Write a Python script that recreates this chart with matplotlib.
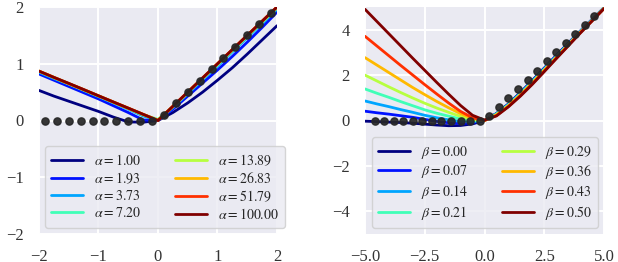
import numpy as np
import matplotlib
matplotlib.use("Agg")
import matplotlib.pyplot as plt
import seaborn as sns

# ---------------- data ----------------
alphas = [1.00, 1.93, 3.73, 7.20, 13.89, 26.83, 51.79, 100.00]
betas = [0.00, 0.07, 0.14, 0.21, 0.29, 0.36, 0.43, 0.50]

left_x = [-2, -1.75, -1.5, -1.25, -1, -0.75, -0.5, -0.25, 0,
          0.25, 0.5, 0.75, 1, 1.25, 1.5, 1.75, 2]
left_curves = [
    [0.53, 0.43, 0.34, 0.25, 0.16, 0.06, -0.025, -0.03, 0.0, 0.14, 0.31, 0.50, 0.71, 0.93, 1.17, 1.42, 1.67],
    [0.82, 0.71, 0.60, 0.49, 0.38, 0.26, 0.14, 0.01, 0.0, 0.20, 0.43, 0.66, 0.89, 1.13, 1.38, 1.64, 1.91],
    [0.85, 0.74, 0.64, 0.53, 0.42, 0.31, 0.20, 0.08, 0.0, 0.23, 0.47, 0.72, 0.96, 1.21, 1.46, 1.71, 1.96],
    [0.865, 0.755, 0.645, 0.54, 0.43, 0.32, 0.21, 0.10, 0.02, 0.24, 0.49, 0.74, 0.98, 1.23, 1.48, 1.73, 1.98],
    [0.87, 0.76, 0.65, 0.54, 0.435, 0.325, 0.215, 0.105, 0.01, 0.245, 0.495, 0.745, 0.99, 1.24, 1.49, 1.74, 1.99],
    [0.87, 0.76, 0.65, 0.545, 0.435, 0.325, 0.217, 0.108, 0.005, 0.25, 0.50, 0.75, 1.0, 1.25, 1.50, 1.75, 2.0],
    [0.87, 0.76, 0.65, 0.545, 0.435, 0.326, 0.218, 0.109, 0.0, 0.25, 0.50, 0.75, 1.0, 1.25, 1.50, 1.75, 2.0],
    [0.87, 0.76, 0.655, 0.545, 0.435, 0.326, 0.218, 0.109, 0.0, 0.25, 0.50, 0.75, 1.0, 1.25, 1.50, 1.75, 2.0],
]
left_dot_x = [-1.9, -1.7, -1.5, -1.3, -1.1, -0.9, -0.7, -0.5, -0.3, -0.1,
              0.1, 0.3, 0.5, 0.7, 0.9, 1.1, 1.3, 1.5, 1.7, 1.9]
left_dot_y = [0, 0, 0, 0, 0, 0, 0, 0, 0, 0,
              0.1, 0.3, 0.5, 0.7, 0.9, 1.1, 1.3, 1.5, 1.7, 1.9]

right_x = [-5, -4.5, -4, -3.5, -3, -2.5, -2, -1.5, -1, -0.5, 0,
           0.5, 1, 1.5, 2, 2.5, 3, 3.5, 4, 4.5, 5]
right_curves = [
    [-0.03, -0.05, -0.07, -0.09, -0.12, -0.16, -0.20, -0.23, -0.22, -0.15, 0.0, 0.31, 0.73, 1.23, 1.76, 2.31, 2.86, 3.40, 3.93, 4.45, 4.97],
    [0.41, 0.34, 0.28, 0.21, 0.14, 0.05, -0.04, -0.10, -0.13, -0.10, 0.0, 0.30, 0.71, 1.21, 1.74, 2.29, 2.84, 3.38, 3.92, 4.44, 4.96],
    [0.86, 0.73, 0.61, 0.48, 0.36, 0.23, 0.12, 0.03, -0.04, -0.05, 0.0, 0.29, 0.70, 1.19, 1.72, 2.27, 2.82, 3.37, 3.91, 4.43, 4.95],
    [1.39, 1.20, 1.02, 0.83, 0.65, 0.47, 0.32, 0.19, 0.07, 0.0, 0.0, 0.28, 0.68, 1.17, 1.70, 2.25, 2.80, 3.35, 3.90, 4.42, 4.95],
    [2.00, 1.74, 1.48, 1.23, 0.99, 0.76, 0.55, 0.36, 0.18, 0.05, 0.0, 0.26, 0.66, 1.14, 1.67, 2.22, 2.78, 3.33, 3.88, 4.41, 4.94],
    [2.77, 2.44, 2.11, 1.78, 1.45, 1.14, 0.84, 0.56, 0.30, 0.09, 0.0, 0.24, 0.64, 1.12, 1.64, 2.20, 2.76, 3.32, 3.87, 4.40, 4.94],
    [3.71, 3.28, 2.85, 2.42, 2.00, 1.58, 1.17, 0.77, 0.40, 0.12, 0.0, 0.22, 0.62, 1.10, 1.62, 2.18, 2.74, 3.30, 3.86, 4.39, 4.93],
    [4.90, 4.36, 3.82, 3.28, 2.74, 2.21, 1.68, 1.16, 0.66, 0.23, 0.02, 0.20, 0.60, 1.07, 1.59, 2.15, 2.72, 3.28, 3.84, 4.38, 4.93],
]
right_dot_x = [-4.6, -4.2, -3.8, -3.4, -3.0, -2.6, -2.2, -1.8, -1.4, -1.0, -0.6, -0.2,
               0.2, 0.6, 1.0, 1.4, 1.8, 2.2, 2.6, 3.0, 3.4, 3.8, 4.2, 4.6]
right_dot_y = [0, 0, 0, 0, 0, 0, 0, 0, 0, 0, 0, 0,
               0.2, 0.6, 1.0, 1.4, 1.8, 2.2, 2.6, 3.0, 3.4, 3.8, 4.2, 4.6]

left_xticks = [-2, -1, 0, 1, 2]
left_yticks = [-2, -1, 0, 1, 2]
right_xticks = [-5, -2.5, 0, 2.5, 5]
right_yticks = [-4, -2, 0, 2, 4]

# ---------------- style ----------------
sns.set_theme(style="darkgrid")
plt.rcParams["font.family"] = ["Liberation Serif", "DejaVu Serif"]
plt.rcParams["mathtext.fontset"] = "stix"

fig = plt.figure(figsize=(6.18, 2.62), dpi=100)
ax1 = fig.add_axes([39 / 618, 28 / 262, 238 / 618, 227 / 262])
ax2 = fig.add_axes([365 / 618, 28 / 262, 239 / 618, 227 / 262])

cmap = plt.cm.jet
n = len(alphas)


def style_axis(ax, xlim, ylim, xticks, yticks):
    ax.set_facecolor("#EAEAF2")
    ax.set_xlim(*xlim)
    ax.set_ylim(*ylim)
    ax.set_xticks(xticks)
    ax.set_yticks(yticks)
    ax.grid(True, color="white", lw=1.4)
    ax.set_axisbelow(True)
    for s in ax.spines.values():
        s.set_visible(False)
    ax.tick_params(length=0, labelsize=12, pad=11, colors="#333333")


for i, (a, ys) in enumerate(zip(alphas, left_curves)):
    ax1.plot(left_x, ys, color=cmap(i / (n - 1)), lw=2.0, label=r"$\alpha = %.2f$" % a)
ax1.plot(left_dot_x, left_dot_y, "o", color="#262626", ms=5.2, alpha=0.92, zorder=5)

for i, (b, ys) in enumerate(zip(betas, right_curves)):
    ax2.plot(right_x, ys, color=cmap(i / (n - 1)), lw=2.0, label=r"$\beta = %.2f$" % b)
ax2.plot(right_dot_x, right_dot_y, "o", color="#262626", ms=5.2, alpha=0.92, zorder=5)

style_axis(ax1, (-2, 2), (-2, 2), left_xticks, left_yticks)
style_axis(ax2, (-5, 5), (-5, 5), right_xticks, right_yticks)

leg_kw = dict(ncol=2, loc="lower left", fontsize=10, handlelength=2.3,
              labelspacing=0.2, columnspacing=2.4, handletextpad=0.8,
              frameon=True, facecolor="#EAEAF2", edgecolor="#cccccc",
              framealpha=0.8, borderpad=0.45, borderaxespad=0.0)
leg1 = ax1.legend(bbox_to_anchor=(0.025, 0.026), **leg_kw)
leg2 = ax2.legend(bbox_to_anchor=(0.029, 0.026), **leg_kw)
for leg in (leg1, leg2):
    for t in leg.get_texts():
        t.set_color("#262626")
    for l in leg.get_lines():
        l.set_linewidth(2.0)

fig.savefig("out.png", dpi=100)
